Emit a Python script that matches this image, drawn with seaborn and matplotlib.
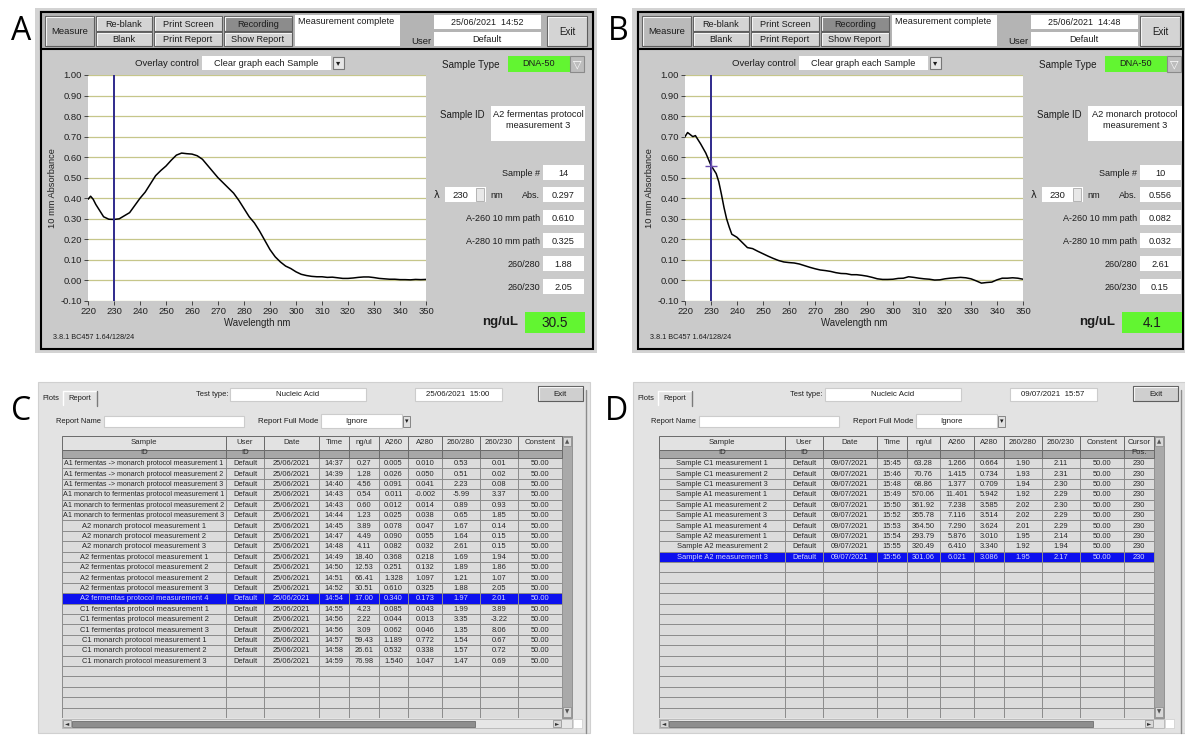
import numpy as np
import pandas as pd
import matplotlib.pyplot as plt
from matplotlib.patches import Rectangle
from matplotlib.colors import ListedColormap
import seaborn as sns

W, H = 1185, 735

# spectra
wl_a = [220, 221, 222, 223, 224, 225, 226, 228, 230, 232, 234, 236, 238, 240, 242, 244, 246, 248,
        250, 252, 254, 256, 258, 260, 262, 264, 266, 268, 270, 272, 274, 276, 278, 280, 282, 284,
        286, 288, 290, 292, 294, 296, 298, 300, 302, 304, 306, 308, 310, 312, 314, 316, 318, 320,
        322, 324, 326, 328, 330, 332, 334, 336, 338, 340, 342, 344, 346, 348, 350]
abs_a = [0.395, 0.41, 0.395, 0.37, 0.35, 0.33, 0.31, 0.298, 0.297, 0.30, 0.315, 0.33, 0.365, 0.40,
         0.43, 0.47, 0.51, 0.535, 0.557, 0.585, 0.61, 0.62, 0.617, 0.615, 0.607, 0.59, 0.56, 0.53,
         0.50, 0.475, 0.45, 0.425, 0.39, 0.35, 0.31, 0.28, 0.24, 0.195, 0.15, 0.115, 0.09, 0.07,
         0.058, 0.042, 0.03, 0.024, 0.02, 0.018, 0.018, 0.015, 0.016, 0.013, 0.01, 0.01, 0.012,
         0.015, 0.017, 0.017, 0.014, 0.01, 0.008, 0.006, 0.006, 0.004, 0.004, 0.003, 0.005, 0.004,
         0.005]
wl_b = [220, 221, 222, 223, 224, 225, 226, 228, 230, 232, 233, 234, 235, 236, 237, 238, 240, 242,
        244, 246, 248, 250, 252, 254, 256, 258, 260, 262, 264, 266, 268, 270, 272, 274, 276, 278,
        280, 282, 284, 286, 288, 290, 292, 294, 296, 298, 300, 302, 304, 306, 308, 310, 312, 314,
        316, 318, 320, 322, 324, 326, 328, 330, 332, 334, 336, 338, 340, 342, 344, 346, 348, 350]
abs_b = [0.70, 0.72, 0.71, 0.70, 0.705, 0.685, 0.665, 0.62, 0.56, 0.52, 0.48, 0.42, 0.355, 0.30,
         0.26, 0.225, 0.21, 0.185, 0.16, 0.155, 0.142, 0.13, 0.118, 0.107, 0.097, 0.09, 0.087,
         0.085, 0.08, 0.072, 0.064, 0.057, 0.051, 0.048, 0.044, 0.038, 0.034, 0.033, 0.028, 0.028,
         0.025, 0.021, 0.015, 0.008, 0.005, 0.005, 0.006, 0.01, 0.011, 0.018, 0.015, 0.011, 0.008,
         0.006, 0.002, 0.003, 0.008, 0.011, 0.013, 0.015, 0.013, 0.008, -0.002, -0.013, -0.01,
         -0.008, 0.003, 0.011, 0.011, 0.013, 0.011, 0.006]

field_names = ["Sample #", "Abs.", "A-260 10 mm path", "A-280 10 mm path", "260/280", "260/230"]
fields_a = ["14", "0.297", "0.610", "0.325", "1.88", "2.05"]
fields_b = ["10", "0.556", "0.082", "0.032", "2.61", "0.15"]
conc_a = "30.5"
conc_b = "4.1"
cursor_nm = 230
cursor_abs_b = 0.556

# report C
ids_c = ["A1 fermentas -> monarch protocol measurement 1",
         "A1 fermentas -> monarch protocol measurement 2",
         "A1 fermentas -> monarch protocol measurement 3",
         "A1 monarch to fermentas protocol measurement 1",
         "A1 monarch to fermentas protocol measurement 2",
         "A1 monarch to fermentas protocol measurement 3",
         "A2 monarch protocol measurement 1", "A2 monarch protocol measurement 2",
         "A2 monarch protocol measurement 3", "A2 fermentas protocol measurement 1",
         "A2 fermentas protocol measurement 2", "A2 fermentas protocol measurement 2",
         "A2 fermentas protocol measurement 3", "A2 fermentas protocol measurement 4",
         "C1 fermentas protocol measurement 1", "C1 fermentas protocol measurement 2",
         "C1 fermentas protocol measurement 3", "C1 monarch protocol measurement 1",
         "C1 monarch protocol measurement 2", "C1 monarch protocol measurement 3"]
times_c = ["14:37", "14:39", "14:40", "14:43", "14:43", "14:44", "14:45", "14:47", "14:48", "14:49",
           "14:50", "14:51", "14:52", "14:54", "14:55", "14:56", "14:56", "14:57", "14:58", "14:59"]
ng_c = [0.27, 1.28, 4.56, 0.54, 0.60, 1.23, 3.89, 4.49, 4.11, 18.40, 12.53, 66.41, 30.51, 17.00,
        4.23, 2.22, 3.09, 59.43, 26.61, 76.98]
a260_c = [0.005, 0.026, 0.091, 0.011, 0.012, 0.025, 0.078, 0.090, 0.082, 0.368, 0.251, 1.328,
          0.610, 0.340, 0.085, 0.044, 0.062, 1.189, 0.532, 1.540]
a280_c = [0.010, 0.050, 0.041, -0.002, 0.014, 0.038, 0.047, 0.055, 0.032, 0.218, 0.132, 1.097,
          0.325, 0.173, 0.043, 0.013, 0.046, 0.772, 0.338, 1.047]
r280_c = [0.53, 0.51, 2.23, -5.99, 0.89, 0.65, 1.67, 1.64, 2.61, 1.69, 1.89, 1.21, 1.88, 1.97,
          1.99, 3.35, 1.35, 1.54, 1.57, 1.47]
r230_c = [0.01, 0.02, 0.08, 3.37, 0.93, 1.85, 0.14, 0.15, 0.15, 1.94, 1.86, 1.07, 2.05, 2.01,
          3.89, -3.22, 8.06, 0.67, 0.72, 0.69]
hl_c = 13

# report D
ids_d = ["Sample C1 measurement 1", "Sample C1 measurement 2", "Sample C1 measurement 3",
         "Sample A1 measurement 1", "Sample A1 measurement 2", "Sample A1 measurement 3",
         "Sample A1 measurement 4", "Sample A2 measurement 1", "Sample A2 measurement 2",
         "Sample A2 measurement 3"]
times_d = ["15:45", "15:46", "15:48", "15:49", "15:50", "15:52", "15:53", "15:54", "15:55", "15:56"]
ng_d = [63.28, 70.76, 68.86, 570.06, 361.92, 355.78, 364.50, 293.79, 320.49, 301.06]
a260_d = [1.266, 1.415, 1.377, 11.401, 7.238, 7.116, 7.290, 5.876, 6.410, 6.021]
a280_d = [0.664, 0.734, 0.709, 5.942, 3.585, 3.514, 3.624, 3.010, 3.340, 3.086]
r280_d = [1.90, 1.93, 1.94, 1.92, 2.02, 2.02, 2.01, 1.95, 1.92, 1.95]
r230_d = [2.11, 2.31, 2.30, 2.29, 2.30, 2.29, 2.29, 2.14, 1.94, 2.17]
hl_d = 9

edges_c = [62, 226, 264, 319, 349, 379, 408, 442, 480, 518, 562]
edges_d = [659, 785, 823, 877, 907, 940, 974, 1004, 1042, 1080, 1124, 1154]

TXT = '#1c1c1c'
GREEN = '#62f531'
TS = 5.4  # table font size

sns.set_theme(style="white")
plt.rcParams['font.family'] = ['Liberation Sans', 'DejaVu Sans']

fig = plt.figure(figsize=(W / 100, H / 100), dpi=100)
fig.patch.set_facecolor('white')
renderer = fig.canvas.get_renderer()
gui = fig.add_axes([0, 0, 1, 1])
gui.set_xlim(0, W)
gui.set_ylim(H, 0)
gui.axis('off')


def fit(t, width):
    w = t.get_window_extent(renderer).width
    if w > width:
        t.set_fontsize(t.get_fontsize() * width / w)
    return t


def rect(x0, y0, x1, y1, fc, ec='none', lw=0.8):
    gui.add_patch(Rectangle((x0, y0), x1 - x0, y1 - y0, facecolor=fc, edgecolor=ec, lw=lw))


def label(x, y, s, size=6.6, ha='center', color=TXT, **kw):
    return gui.text(x, y, s, fontsize=size, ha=ha, va='center', color=color, **kw)


def button(x0, y0, x1, y1, s, fc='#d4d4d4', size=6.6, color=TXT):
    rect(x0, y0, x1, y1, fc, '#5e5e5e', 0.8)
    gui.plot([x0 + 1.2, x0 + 1.2, x1 - 1.2], [y1 - 1.2, y0 + 1.2, y0 + 1.2], color='#f4f4f4', lw=0.8)
    fit(label((x0 + x1) / 2, (y0 + y1) / 2 + 0.5, s, size, color=color), x1 - x0 - 6)


def letter(x, y, s):
    gui.text(x, y, s, fontsize=23, ha='center', va='center', color='black',
             family=['Open Sans', 'DejaVu Sans'])


def nanodrop(ox, tag, stamp, sample_id, vals, conc, wl, ab, mark=False):
    right = min(ox + 593, W - 2)
    letter(ox + 21, 31, tag)
    rect(ox + 35, 8, min(ox + 597, W), 353, '#d3d3d3')
    rect(ox + 41, 12, right, 349, '#cacaca', 'black', 1.5)
    rect(ox + 41, 12, right, 49, '#b4b4b4', 'black', 1.5)
    button(ox + 45, 16, ox + 94, 46, 'Measure', '#bababa', size=6.8)
    button(ox + 96, 16, ox + 152, 31, 'Re-blank')
    button(ox + 96, 32, ox + 152, 46, 'Blank')
    button(ox + 154, 16, ox + 222, 31, 'Print Screen')
    button(ox + 154, 32, ox + 222, 46, 'Print Report')
    button(ox + 224, 16, ox + 292, 31, 'Recording', '#8c8c8c')
    button(ox + 224, 32, ox + 292, 46, 'Show Report')
    rect(ox + 295, 15, ox + 400, 46, 'white')
    fit(label(ox + 298, 21, 'Measurement complete', ha='left'), 100)
    label(ox + 421, 41, 'User', size=6.8)
    rect(ox + 434, 15, ox + 541, 29, 'white')
    label(ox + 487, 22, stamp, size=6.4)
    rect(ox + 434, 32, ox + 541, 46, 'white')
    label(ox + 487, 39, 'Default', size=6.6)
    ex = min(ox + 587, right - 3)
    button(ex - 40, 16, ex, 46, 'Exit', size=7)

    label(ox + 199, 63, 'Overlay control', ha='right', size=6.8)
    rect(ox + 202, 56, ox + 331, 70, 'white')
    label(ox + 266, 63, 'Clear graph each Sample', size=6.6)
    rect(ox + 333, 57, ox + 344, 69, '#e6e6e6', '#777777')
    label(ox + 338.5, 63, '▾', size=6, family=['DejaVu Sans'])
    label(ox + 442, 65, 'Sample Type', ha='left', size=7.1)
    rect(ox + 508, 56, ox + 570, 72, GREEN)
    label(ox + 539, 63.5, 'DNA-50', size=6.6)
    rect(ox + 570, 56, ox + 584, 72, '#bdbdbd', '#8a8a8a')
    label(ox + 577, 64, '▽', size=8, color='white', family=['DejaVu Sans'])
    label(ox + 440, 115, 'Sample ID', ha='left', size=6.9)
    rect(ox + 491, 106, ox + 585, 141, 'white')
    fit(label(ox + 538, 114, sample_id[0], size=6.7), 90)
    fit(label(ox + 538, 125.5, sample_id[1], size=6.7), 90)
    for name, val, yc in zip(field_names, vals, [173, 195, 218, 241, 264, 287]):
        label(ox + 540, yc, name, ha='right', size=6.5)
        rect(ox + 543, yc - 8, ox + 584, yc + 7, 'white')
        label(ox + 563, yc, val, size=6.6)
    label(ox + 437, 195, 'λ', size=7, family=['DejaVu Sans'])
    rect(ox + 445, 187, ox + 486, 202, 'white')
    label(ox + 460, 195, str(cursor_nm), size=6.8)
    rect(ox + 476, 188, ox + 484, 201, '#e8e8e8', '#9a9a9a', 0.5)
    label(ox + 497, 195, 'nm', size=6.6)
    gui.text(ox + 518, 322, 'ng/uL', fontsize=9.5, fontweight='bold', ha='right', va='center',
             color=TXT)
    rect(ox + 525, 312, ox + 585, 333, GREEN)
    label(ox + 555, 322.5, conc, size=9.8)
    label(ox + 53, 337, '3.8.1 BC457 1.64/128/24', ha='left', size=5.2)

    ax = fig.add_axes([(ox + 88) / W, 1 - 301 / H, 338 / W, 226 / H])
    sns.lineplot(x=wl, y=ab, ax=ax, color='black', lw=1.1)
    ax.axvline(cursor_nm, color='#2f2a8c', lw=1.4)
    if mark:
        ax.plot(cursor_nm, cursor_abs_b, marker='+', ms=8, mew=1.0, color='#6a4fb0')
    ax.set_xlim(220, 350)
    ax.set_ylim(-0.10, 1.00)
    ax.set_xticks(range(220, 351, 10))
    yt = np.round(np.arange(-0.1, 1.001, 0.1), 2)
    ax.set_yticks(yt)
    ax.set_yticklabels([f"{t:.2f}" for t in yt])
    ax.set_facecolor('white')
    ax.grid(True, axis='y', color='#c6c68a', lw=0.9)
    ax.grid(False, axis='x')
    ax.set_axisbelow(True)
    for s in ax.spines.values():
        s.set_visible(False)
    ax.tick_params(axis='both', left=True, bottom=True, length=3, width=0.7, color='#444444',
                   pad=1.5, labelsize=6.8, labelcolor='#222222')
    ax.set_xlabel('Wavelength nm', fontsize=6.9, color='#222222', labelpad=1.5)
    ax.set_ylabel('10 mm Absorbance', fontsize=6.7, color='#222222', labelpad=2)
    return ax


def report_frame(ids, date, times, ng, a260, a280, r280, r230, cursor=None):
    df = pd.DataFrame({
        "Sample\nID": ids,
        "User\nID": ["Default"] * len(ids),
        "Date": [date] * len(ids),
        "Time": times,
        "ng/ul": [f"{v:.2f}" for v in ng],
        "A260": [f"{v:.3f}" for v in a260],
        "A280": [f"{v:.3f}" for v in a280],
        "260/280": [f"{v:.2f}" for v in r280],
        "260/230": [f"{v:.2f}" for v in r230],
        "Constent": ["50.00"] * len(ids),
    })
    if cursor is not None:
        df["Cursor\nPos."] = [str(cursor)] * len(ids)
    return df


def report(ox, tag, stamp, edges, df, hl, thumb_end, n_rows=25, top=436, bottom=718):
    letter(ox + 21, 411, tag)
    rect(ox + 38, 382, min(ox + 590, W), 733, '#e3e3e3', '#d0d0d0')
    label(ox + 51, 398, 'Plots', size=TS)
    label(ox + 80, 398, 'Report', size=TS)
    gui.plot([ox + 63, ox + 63, ox + 97], [405, 391, 391], color='white', lw=1)
    gui.plot([ox + 97, ox + 97], [391, 406], color='#7a7a7a', lw=1)
    gui.plot([ox + 586, ox + 586], [390, 733], color='#8c8c8c', lw=1)
    label(ox + 228, 394.5, 'Test type:', ha='right', size=TS)
    rect(ox + 230, 388, ox + 366, 401, 'white', '#cccccc')
    label(ox + 298, 394.5, 'Nucleic Acid', size=TS + 0.3)
    rect(ox + 415, 388, ox + 502, 401, 'white', '#cccccc')
    label(ox + 458, 394.5, stamp, size=TS + 0.3)
    button(ox + 538, 386, ox + 583, 401, 'Exit', '#cfcfcf', size=TS + 0.3)
    label(ox + 101, 421.5, 'Report Name', ha='right', size=TS)
    rect(ox + 104, 416, ox + 244, 427, 'white', '#cccccc')
    label(ox + 318, 421.5, 'Report Full Mode', ha='right', size=TS + 0.3)
    rect(ox + 321, 414, ox + 402, 428, 'white', '#cccccc')
    label(ox + 356, 421.5, 'Ignore', size=TS + 0.3)
    rect(ox + 403, 416, ox + 410, 427, '#e0e0e0', '#777777', 0.6)
    label(ox + 406.5, 421.5, '▾', size=5, family=['DejaVu Sans'])

    x0, x1 = edges[0], edges[-1]
    sb = x1 + 10
    rect(x1, top, sb, bottom, '#a9a9a9', '#8a8a8a', 0.6)
    rect(x1 + 1, top + 1, sb - 1, top + 10, '#d8d8d8', '#8a8a8a', 0.5)
    label(x1 + 5, top + 5.5, '▲', size=4, color='#555555', family=['DejaVu Sans'])
    rect(x1 + 1, bottom - 11, sb - 1, bottom - 1, '#d8d8d8', '#8a8a8a', 0.5)
    label(x1 + 5, bottom - 6, '▼', size=4, color='#555555', family=['DejaVu Sans'])
    rect(x0, bottom + 1, sb, bottom + 10, '#e6e6e6', '#b5b5b5', 0.6)
    rect(x0 + 10, bottom + 2.5, thumb_end, bottom + 8.5, '#8e8e8e', '#6e6e6e', 0.6)
    rect(x0 + 1, bottom + 2, x0 + 9, bottom + 9, '#d8d8d8', '#8a8a8a', 0.5)
    label(x0 + 5, bottom + 5.5, '◄', size=4, color='#333333', family=['DejaVu Sans'])
    rect(x1 - 9, bottom + 2, x1 - 1, bottom + 9, '#d8d8d8', '#8a8a8a', 0.5)
    label(x1 - 5, bottom + 5.5, '►', size=4, color='#333333', family=['DejaVu Sans'])
    rect(sb + 1, bottom + 1, sb + 10, bottom + 10, 'white', '#cccccc', 0.5)

    rh = (bottom - top) / (n_rows + 22 / 10.32)
    hdr = 22 / rh
    tax = fig.add_axes([x0 / W, 1 - bottom / H, (x1 - x0) / W, (bottom - top) / H])
    tax.set_xlim(x0, x1)
    tax.set_ylim(n_rows, -hdr)
    tax.axis('off')
    state = np.zeros((n_rows, len(edges) - 1))
    state[hl, :] = 1
    tax.pcolormesh(edges, np.arange(n_rows + 1), state, vmin=0, vmax=1,
                   cmap=ListedColormap(['#dcdcdc', '#0c10ee']), edgecolors='#8d8d8d', lw=0.6)
    for j, col in enumerate(df.columns):
        c0, c1 = edges[j], edges[j + 1]
        tax.add_patch(Rectangle((c0, -hdr), c1 - c0, hdr * 0.62, facecolor='#e2e2e2',
                                edgecolor='#6a6a6a', lw=0.7, clip_on=False))
        tax.add_patch(Rectangle((c0, -hdr * 0.38), c1 - c0, hdr * 0.38, facecolor='#a7a7a7',
                                edgecolor='#6a6a6a', lw=0.7, clip_on=False))
        for k, part in enumerate(col.split('\n')):
            fit(tax.text((c0 + c1) / 2, -hdr + 0.62 + 0.95 * k, part, ha='center', va='center',
                         fontsize=TS + 0.2, color='#2a2a2a', clip_on=False), c1 - c0 - 3)
        for i, val in enumerate(df[col]):
            fit(tax.text((c0 + c1) / 2, i + 0.55, val, ha='center', va='center', fontsize=TS,
                         color='#d8dcff' if i == hl else '#262626'), c1 - c0 - 2)
    return tax


nanodrop(0, 'A', '25/06/2021  14:52', ['A2 fermentas protocol', 'measurement 3'],
         fields_a, conc_a, wl_a, abs_a)
nanodrop(597, 'B', '25/06/2021  14:48', ['A2 monarch protocol', 'measurement 3'],
         fields_b, conc_b, wl_b, abs_b, mark=True)

df_c = report_frame(ids_c, "25/06/2021", times_c, ng_c, a260_c, a280_c, r280_c, r230_c)
df_d = report_frame(ids_d, "09/07/2021", times_d, ng_d, a260_d, a280_d, r280_d, r230_d,
                    cursor=cursor_nm)
report(0, 'C', '25/06/2021  15:00', edges_c, df_c, hl_c, 475)
report(595, 'D', '09/07/2021  15:57', edges_d, df_d, hl_d, 1093)

plt.savefig('out.png', dpi=100)
